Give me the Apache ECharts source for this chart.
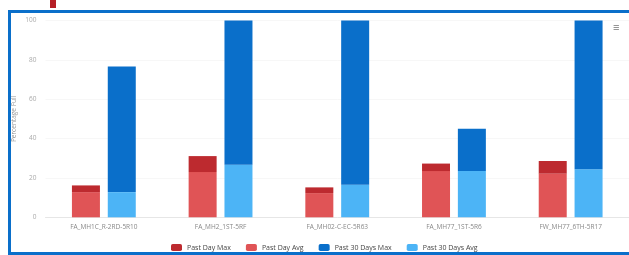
<!DOCTYPE html>
<html>
<head>
<meta charset="utf-8">
<script src="https://cdn.jsdelivr.net/npm/echarts@6/dist/echarts.min.js"></script>
<style>
  html, body { margin: 0; padding: 0; background: #fff; }
  #chart { width: 629px; height: 255px; }
</style>
</head>
<body>
<div id="chart"></div>
<script>
var categories = ["FA_MH1C_R-2RD-5R10", "FA_MH2_1ST-5RF", "FA_MH02-C-EC-5R63", "FA_MH77_1ST-5R6", "FW_MH77_6TH-5R17"];
var dayMax = [16.2, 31.1, 15.2, 27.3, 28.6];
var dayAvg = [12.8, 23.0, 12.3, 23.5, 22.2];
var monthMax = [76.6, 100, 100, 45.0, 100];
var monthAvg = [12.8, 26.7, 16.6, 23.5, 24.4];
var yTicks = [0, 20, 40, 60, 80, 100];

/*max is drawn as the part above avg*/
function above(maxArr, avgArr){
    var out = [];
    for(var i = 0; i < maxArr.length; i++){
        out.push(+(maxArr[i] - avgArr[i]).toFixed(2));
    }
    return out;
}

var chart = echarts.init(document.getElementById("chart"));
var option = {
    animation: false,
    backgroundColor: '#ffffff',
    textStyle: { fontFamily: 'Open Sans' },
    grid: {
        left: 45.5,
        top: 20.5,
        width: 591,
        height: 196.8
    },
    legend: {
        data: ['Past Day Max', 'Past Day Avg', 'Past 30 Days Max', 'Past 30 Days Avg'],
        left: 166,
        top: 239,
        itemWidth: 11,
        itemHeight: 7,
        itemGap: 15,
        textStyle: { fontSize: 7, color: '#444' }
    },
    xAxis: {
        type: 'category',
        data: categories,
        axisTick: { show: false },
        axisLine: { lineStyle: { color: '#e6e6e6' } },
        axisLabel: { fontSize: 6.5, color: '#888', margin: 6 }
    },
    yAxis: {
        type: 'value',
        min: yTicks[0],
        max: yTicks[yTicks.length - 1],
        interval: 20,
        name: 'Percentage Full',
        nameLocation: 'middle',
        nameGap: 28,
        nameMoveOverlap: false,
        nameTextStyle: { fontSize: 6.5, color: '#999' },
        axisLabel: { fontSize: 6.5, color: '#aaa', margin: 9 },
        splitLine: { lineStyle: { color: '#f7f7f7' } }
    },
    series: [
        {
            name: 'Past Day Avg', type: 'bar', stack: 'day',
            barWidth: 28, barGap: '28%',
            itemStyle: { color: '#e05456' },
            data: dayAvg
        },
        {
            name: 'Past Day Max', type: 'bar', stack: 'day',
            barWidth: 28,
            itemStyle: { color: '#bd2a2f' },
            data: above(dayMax, dayAvg)
        },
        {
            name: 'Past 30 Days Avg', type: 'bar', stack: 'month',
            barWidth: 28,
            itemStyle: { color: '#4cb4f6' },
            data: monthAvg
        },
        {
            name: 'Past 30 Days Max', type: 'bar', stack: 'month',
            barWidth: 28,
            itemStyle: { color: '#0a6fca' },
            data: above(monthMax, monthAvg)
        }
    ],
    graphic: [
        {
            type: 'rect', silent: true,
            shape: { x: 9.5, y: 11.5, width: 640, height: 242 },
            style: { fill: 'none', stroke: '#0a6fca', lineWidth: 3 }
        },
        {
            type: 'rect', silent: true,
            shape: { x: 50, y: 0, width: 6, height: 8 },
            style: { fill: '#b51f26' }
        },
        {
            type: 'text', silent: true,
            left: 613, top: 22,
            style: { text: '≡', fontSize: 11, fill: '#777' }
        }
    ]
};
chart.setOption(option);
</script>
</body>
</html>
